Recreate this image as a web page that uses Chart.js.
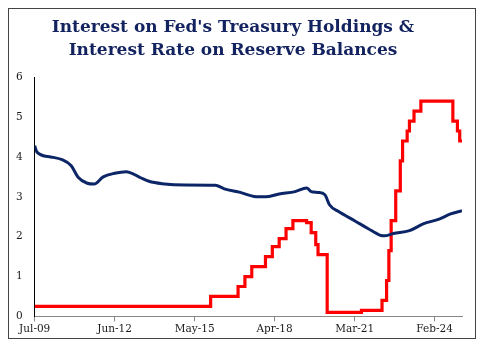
<!DOCTYPE html>
<html>
<head>
<meta charset="utf-8">
<script src="https://cdn.jsdelivr.net/npm/chart.js@4/dist/chart.umd.min.js"></script>
<style>
    body { margin: 0; background: #fff; }
    #wrap { position: relative; width: 485px; height: 350px; }
    #frame { position: absolute; left: 8px; top: 8px; width: 468px; height: 331px; border: 1px solid #444; box-sizing: border-box; }
    #myChart { position: absolute; left: 0; top: 0; }
</style>
</head>
<body>
<div id="wrap">
    <div id="frame"></div>
    <canvas id="myChart" width="485" height="350"></canvas>
</div>
<script>
const titleLines = ["Interest on Fed's Treasury Holdings &", "Interest Rate on Reserve Balances"];

const tickMonths = ["2009-07", "2012-06", "2015-05", "2018-04", "2021-03", "2024-02"];
const tickLabels = ["Jul-09", "Jun-12", "May-15", "Apr-18", "Mar-21", "Feb-24"];

// average interest on the Fed's Treasury holdings (%)
const treasuryDates = ["2009-07", "2009-08", "2010-02", "2010-07", "2010-11", "2011-02", "2011-06",
    "2011-09", "2012-01", "2012-06", "2012-11", "2013-05", "2013-09", "2014-04", "2014-08",
    "2016-02", "2016-06", "2017-01", "2017-07", "2017-12", "2018-06", "2019-01", "2019-06",
    "2019-08", "2019-11", "2020-02", "2020-04", "2020-08", "2021-03", "2021-09", "2022-02",
    "2022-04", "2022-08", "2023-03", "2023-09", "2024-04", "2024-09", "2025-02"];
const treasuryRate = [4.28, 4.12, 4.00, 3.93, 3.78, 3.49, 3.34,
    3.32, 3.50, 3.59, 3.63, 3.49, 3.39, 3.32, 3.30,
    3.29, 3.20, 3.11, 3.01, 3.00, 3.07, 3.13, 3.22,
    3.13, 3.11, 3.05, 2.80, 2.63, 2.40, 2.20, 2.04,
    2.02, 2.08, 2.15, 2.32, 2.44, 2.57, 2.65];

// interest rate on reserve balances (%), value from that month on
const reserveDates = ["2009-07", "2015-12", "2016-12", "2017-03", "2017-06", "2017-12", "2018-03",
    "2018-06", "2018-09", "2018-12", "2019-06", "2019-08", "2019-10", "2019-11", "2020-03",
    "2021-06", "2022-03", "2022-05", "2022-06", "2022-07", "2022-09", "2022-11", "2022-12",
    "2023-02", "2023-03", "2023-05", "2023-08", "2024-10", "2024-12", "2025-01", "2025-02"];
const reserveRate = [0.25, 0.50, 0.75, 1.00, 1.25, 1.50, 1.75,
    1.95, 2.20, 2.40, 2.35, 2.10, 1.80, 1.55, 0.10,
    0.15, 0.40, 0.90, 1.65, 2.40, 3.15, 3.90, 4.40,
    4.65, 4.90, 5.15, 5.40, 4.90, 4.65, 4.40, 4.40];

function monthIndex(s) {
    const y = parseInt(s.split('-')[0]);
    const m = parseInt(s.split('-')[1]);
    return (y - 2009) * 12 + (m - 7);
}

function toPoints(dates, values) {
    let pts = [];
    for (let i = 0; i < dates.length; i++) {
        pts.push({x: monthIndex(dates[i]), y: values[i]});
    }
    return pts;
}

const tickPositions = tickMonths.map(monthIndex);
const serif = "'DejaVu Serif', Georgia, serif";

new Chart("myChart", {
    type: "line",
    data: {
        datasets: [{
            data: toPoints(treasuryDates, treasuryRate),
            borderColor: "#0b2566",
            borderWidth: 3,
            cubicInterpolationMode: "monotone",
            pointRadius: 0,
            fill: false
        }, {
            data: toPoints(reserveDates, reserveRate),
            borderColor: "#ff0000",
            borderWidth: 3.2,
            stepped: true,
            pointRadius: 0,
            fill: false
        }]
    },
    options: {
        responsive: false,
        animation: false,
        layout: {padding: {left: 4, right: 23, top: 0, bottom: 12}},
        plugins: {
            legend: {display: false},
            tooltip: {enabled: false},
            title: {
                display: true,
                text: titleLines,
                color: "#13235f",
                font: {family: serif, size: 17, weight: "bold", lineHeight: 1.3},
                padding: {top: 17, bottom: 16}
            }
        },
        scales: {
            x: {
                type: "linear",
                min: 0,
                max: monthIndex("2025-02"),
                afterBuildTicks: (scale) => {
                    scale.ticks = tickPositions.map(v => ({value: v}));
                },
                ticks: {
                    autoSkip: false,
                    maxRotation: 0,
                    padding: 2,
                    color: "#1a1a1a",
                    font: {family: serif, size: 10.5},
                    callback: (value) => tickLabels[tickPositions.indexOf(value)]
                },
                grid: {display: true, drawOnChartArea: false, drawTicks: true, tickLength: 5, color: "#888"},
                border: {display: true, color: "#888", width: 1}
            },
            y: {
                min: 0,
                max: 6,
                ticks: {
                    stepSize: 1,
                    padding: 12,
                    color: "#1a1a1a",
                    font: {family: serif, size: 10.5}
                },
                grid: {display: false, drawTicks: false},
                border: {display: true, color: "#000", width: 1}
            }
        }
    }
});
</script>
</body>
</html>
